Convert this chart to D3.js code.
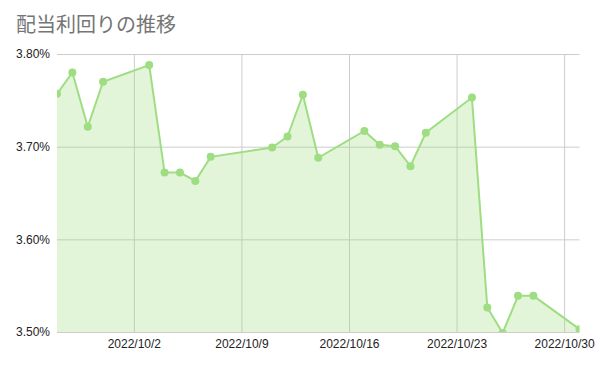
<!DOCTYPE html>
<html>
<head>
<meta charset="utf-8">
<script src="https://cdn.jsdelivr.net/npm/d3@7"></script>
<style>
  body { margin: 0; background: #fff; }
  svg { display: block; }
</style>
</head>
<body>
<div id="chart"></div>
<script>
// data (weekdays only, 10/10 is a holiday)
const dates = [
  "2022-09-27", "2022-09-28", "2022-09-29", "2022-09-30",
  "2022-10-03", "2022-10-04", "2022-10-05", "2022-10-06", "2022-10-07",
  "2022-10-11", "2022-10-12", "2022-10-13", "2022-10-14",
  "2022-10-17", "2022-10-18", "2022-10-19", "2022-10-20", "2022-10-21",
  "2022-10-24", "2022-10-25", "2022-10-26", "2022-10-27", "2022-10-28",
  "2022-10-31"
];
const yields = [
  3.757, 3.780, 3.7215, 3.770,
  3.788, 3.672, 3.672, 3.663, 3.689,
  3.699, 3.711, 3.756, 3.688,
  3.717, 3.702, 3.7005, 3.679, 3.715,
  3.753, 3.5265, 3.499, 3.539, 3.539,
  3.503
];
const yTicks = [3.50, 3.60, 3.70, 3.80];
const xTicks = ["2022-10-02", "2022-10-09", "2022-10-16", "2022-10-23", "2022-10-30"];
const xRange = ["2022-09-27", "2022-10-31"];
const title = "配当利回りの推移";

const width = 597, height = 366;
const margin = { top: 54, right: 17.5, bottom: 34, left: 57 };
const innerW = width - margin.left - margin.right;
const innerH = height - margin.top - margin.bottom;

const parse = d3.utcParse("%Y-%m-%d");
const data = dates.map((d, i) => ({ date: parse(d), value: yields[i] }));

const svg = d3.select("#chart")
  .append("svg")
  .attr("width", width)
  .attr("height", height);

svg.append("text")
  .attr("x", 16)
  .attr("y", 32)
  .attr("font-family", "'Noto Sans CJK JP', sans-serif")
  .attr("font-size", 20)
  .attr("fill", "#757575")
  .text(title);

const g = svg.append("g")
  .attr("transform", `translate(${margin.left},${margin.top})`);

const x = d3.scaleUtc()
  .domain(xRange.map(parse))
  .range([0, innerW]);

const y = d3.scaleLinear()
  .domain([3.50, 3.80])
  .range([innerH, 0]);

// horizontal gridlines + y labels
const yAxis = g.append("g")
  .call(d3.axisLeft(y)
    .tickValues(yTicks)
    .tickSize(-innerW)
    .tickPadding(7)
    .tickFormat(d => d.toFixed(2) + "%"));
yAxis.select(".domain").remove();
yAxis.selectAll("line").attr("stroke", "#cccccc");
yAxis.selectAll("text")
  .attr("font-family", "'Liberation Sans', Arial, sans-serif")
  .attr("font-size", 12)
  .attr("fill", "#222");

// vertical gridlines + x labels
const xAxis = g.append("g")
  .attr("transform", `translate(0,${innerH})`)
  .call(d3.axisBottom(x)
    .tickValues(xTicks.map(parse))
    .tickSize(-innerH)
    .tickPadding(7)
    .tickFormat(d3.utcFormat("%Y/%-m/%-d")));
xAxis.select(".domain").remove();
xAxis.selectAll("line").attr("stroke", "#cccccc");
xAxis.selectAll("text")
  .attr("font-family", "'Liberation Sans', Arial, sans-serif")
  .attr("font-size", 12)
  .attr("fill", "#222");

svg.append("defs").append("clipPath")
  .attr("id", "plot-clip")
  .append("rect")
  .attr("width", innerW)
  .attr("height", innerH);

const plot = g.append("g").attr("clip-path", "url(#plot-clip)");

const green = "#9fdd82";

plot.append("path")
  .datum(data)
  .attr("fill", green)
  .attr("fill-opacity", 0.3)
  .attr("d", d3.area()
    .x(d => x(d.date))
    .y0(innerH)
    .y1(d => y(d.value)));

plot.append("path")
  .datum(data)
  .attr("fill", "none")
  .attr("stroke", green)
  .attr("stroke-width", 2)
  .attr("d", d3.line()
    .x(d => x(d.date))
    .y(d => y(d.value)));

plot.selectAll("circle")
  .data(data)
  .enter()
  .append("circle")
  .attr("cx", d => x(d.date))
  .attr("cy", d => y(d.value))
  .attr("r", 4)
  .attr("fill", green);
</script>
</body>
</html>
